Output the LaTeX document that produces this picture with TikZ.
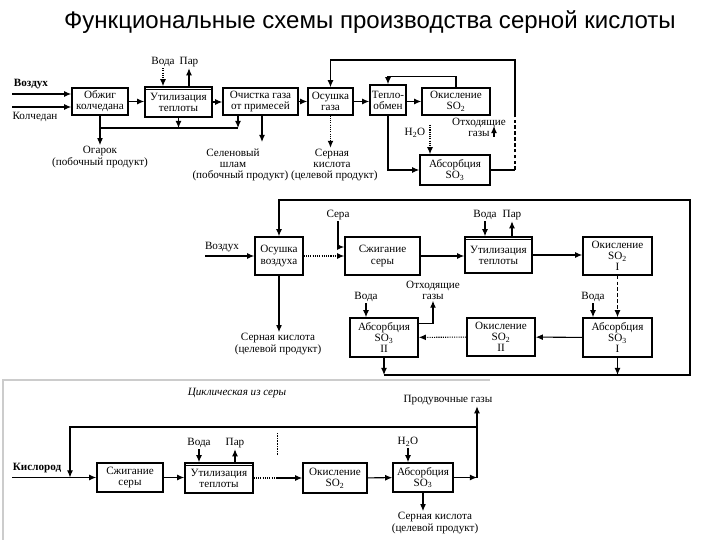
\documentclass[tikz,border=0pt]{standalone}
\usepackage{fontspec}
\setmainfont{Liberation Serif}
\newfontfamily\titlefont{Liberation Sans}
\usetikzlibrary{arrows.meta}
\newcommand{\dfont}{\fontsize{9.5}{9.5}\selectfont}

\begin{document}
\begin{tikzpicture}[x=0.03cm, y=-0.03cm, >={Latex[length=6pt,width=5pt]},
  box/.style args={#1x#2}{draw, line width=1.3pt, minimum width=#1*0.03cm,
    minimum height=#2*0.03cm, inner sep=1pt, align=center, font=\dfont},
  lbl/.style={align=center, font=\dfont, inner sep=1pt},
  flow/.style={->, line width=0.9pt},
  pipe/.style={line width=0.9pt}]

  \useasboundingbox (0,0) rectangle (720,540);

  \node[font=\titlefont\fontsize{20.5}{22}\selectfont] (title) at (370,22)
    {Функциональные схемы производства серной кислоты};

  % scheme from pyrite
  \node[box=56x27] (obzhig) at (100,101.5) {Обжиг\\колчедана};
  \node[box=67x30] (util1) at (178.5,102) {Утилизация\\теплоты};
  \node[box=75x27] (ochist) at (260.5,101.5) {Очистка газа\\от примесей};
  \node[box=45x27] (osush1) at (330.5,101.5) {Осушка\\газа};
  \node[box=36x30] (teplo) at (388,100) {Тепло-\\обмен};
  \node[box=68x27] (okisl1) at (456,101.5) {Окисление\\SO\textsubscript{2}};
  \node[box=70x30] (absorb1) at (455,170) {Абсорбция\\SO\textsubscript{3}};

  \node[lbl, font=\dfont\bfseries] (vozduh1) at (31,84) {Воздух};
  \coordinate (in1) at (12,94);
  \draw[flow] (in1) -- (in1 -| obzhig.west);
  \node[lbl] (kolch) at (35,117) {Колчедан};
  \coordinate (in2) at (12,107);
  \draw[flow] (in2) -- (in2 -| obzhig.west);

  \draw[flow] (obzhig.east) -- (obzhig.east -| util1.west);
  \draw[flow] (util1.east) -- (util1.east -| ochist.west);
  \draw[flow] (ochist.east) -- (ochist.east -| osush1.west);
  \draw[flow] (osush1.east) -- (osush1.east -| teplo.west);
  \draw[flow] (teplo.east |- okisl1.west) -- (okisl1.west);

  \node[lbl] (voda1) at (163,62) {Вода};
  \node[lbl] (par1) at (189,62) {Пар};
  \draw[flow, densely dotted] (voda1) -- (voda1 |- util1.north);
  \draw[flow] (par1 |- util1.north) -- (par1);

  % cinder
  \node[lbl] (ogarok) at (100,157) {Огарок\\(побочный продукт)};
  \coordinate (dust) at (100,128);
  \coordinate (dustR) at (238,128);
  \draw[pipe] (obzhig.south) -- (dust) -- (dustR);
  \draw[flow] (dust) -- (ogarok);
  \draw[flow] (util1.south) -- (util1.south |- dust);
  \draw[flow] (ochist.south -| dustR) -- (dustR);

  \node[lbl] (selen) at (233,158.5) {Селеновый\\шлам};
  \coordinate (selenT) at (262,142);
  \draw[flow] (ochist.south -| selenT) -- (selenT);
  \node[lbl] (prod1) at (285,176) {(побочный продукт) (целевой продукт)};

  \node[lbl] (acid1) at (332,158.5) {Серная\\кислота};
  \draw[flow, densely dotted] (osush1.south) -- (osush1.south |- acid1.north);

  \draw[flow] (okisl1.north) -- ++(0,-11) -| (teplo.north);
  \draw[flow] (teplo.south) |- (absorb1.west);

  \node[lbl] (h2o1) at (415,133) {H\textsubscript{2}O};
  \coordinate (h2oT) at (430,125);
  \draw[flow, densely dotted] (h2oT) -- (h2oT |- absorb1.north);

  \node[lbl] (off1) at (479,127) {Отходящие\\газы\hspace{4mm}};
  \coordinate (offA) at (494,137);
  \draw[flow] (offA) -- ++(0,-11);

  \coordinate (rl) at (515,60);
  \draw[pipe] (absorb1.east) -- (absorb1.east -| rl) coordinate (rb);
  \draw[pipe, densely dashed] (rb) -- (rb |- okisl1.south);
  \draw[flow] (rb |- okisl1.south) -- (rl) -| (osush1.north);

  % scheme from sulfur
  \node[box=48x38] (osushV) at (279,256) {Осушка\\воздуха};
  \node[box=75x38] (szhig2) at (382.5,256) {Сжигание\\серы};
  \node[box=67x36] (util2) at (498.5,255) {Утилизация\\теплоты};
  \node[box=69x38] (okislI) at (617.5,256) {Окисление\\SO\textsubscript{2}\\I};
  \node[box=69x39] (absI) at (617.5,337.5) {Абсорбция\\SO\textsubscript{3}\\I};
  \node[box=68x38] (okislII) at (501,337) {Окисление\\SO\textsubscript{2}\\II};
  \node[box=68x39] (absII) at (384,337.5) {Абсорбция\\SO\textsubscript{3}\\II};

  \node[lbl] (vozduh2) at (222,247) {Воздух};
  \coordinate (in3) at (205,256);
  \draw[flow] (in3) -- (osushV.west);
  \node[lbl] (acid2) at (278,344) {Серная кислота\\(целевой продукт)};
  \draw[flow] (osushV.south) -- (osushV.south |- acid2.north);

  \node[lbl] (sera2) at (338,215) {Сера};
  \draw[flow] (sera2.south) |- ([yshift=0.27cm]szhig2.west);
  \draw[flow, densely dotted] (osushV.east) -- (osushV.east -| szhig2.west);
  \draw[flow] (szhig2.east) -- (szhig2.east -| util2.west);

  \node[lbl] (voda2) at (485,215) {Вода};
  \node[lbl] (par2) at (512,215) {Пар};
  \draw[flow] (voda2) -- (voda2 |- util2.north);
  \draw[flow] (par2 |- util2.north) -- (par2);
  \draw[flow] (util2.east) -- (util2.east -| okislI.west);

  \draw[flow, densely dashed] (okislI) -- (absI);
  \node[lbl] (voda3) at (593,297) {Вода};
  \draw[flow] (voda3) -- (voda3 |- absI.north);
  \draw[flow] (absI) -- (okislII);
  \draw[flow, densely dotted] (okislII) -- (absII);
  \node[lbl] (voda4) at (366,297) {Вода};
  \draw[flow] (voda4) -- (voda4 |- absII.north);

  \node[lbl] (off2) at (433,290) {Отходящие\\газы};
  \draw[flow] ([yshift=0.43cm]absII.east) -| (off2.south);

  \coordinate (mTL) at (277,200);
  \coordinate (mBR) at (690,375);
  \draw[flow] (absII.south) -- (absII.south |- mBR);
  \draw[flow] (absI.south) -- (absI.south |- mBR);
  \draw[flow] (absII.south |- mBR) -- (mBR) |- (osushV.north |- mTL) -- (osushV.north);

  % cyclic scheme
  \draw[gray!40, line width=1pt] (3,540) -- (3,380) -- (490,380);
  \node[lbl, font=\dfont\itshape] (cap3) at (237,393) {Циклическая из серы};
  \node[lbl, font=\dfont\bfseries] (kisl) at (37,468) {Кислород};
  \node[box=66x29] (szhig3) at (130,477.5) {Сжигание\\серы};
  \node[box=68x30] (util3) at (219,478) {Утилизация\\теплоты};
  \node[box=64x30] (okisl3) at (335,478) {Окисление\\SO\textsubscript{2}};
  \node[box=60x29] (abs3) at (423,477.5) {Абсорбция\\SO\textsubscript{3}};

  \coordinate (in4) at (12,477.5);
  \draw[flow] (in4) -- (szhig3.west);
  \draw[flow] (szhig3.east) -- (szhig3.east -| util3.west);
  \node[lbl] (voda5) at (199,443) {Вода};
  \node[lbl] (par5) at (235,443) {Пар};
  \draw[flow] (voda5) -- (voda5 |- util3.north);
  \draw[flow] (par5 |- util3.north) -- (par5);

  \coordinate (mid3) at (277,478);
  \draw[pipe, densely dotted] (util3.east) -- (mid3);
  \draw[flow] (mid3) -- (okisl3.west);
  \draw[densely dotted] (277,433) -- (277,455);
  \draw[flow] (okisl3) -- (abs3);
  \node[lbl] (h2o3) at (408,442) {H\textsubscript{2}O};
  \draw[flow] (h2o3) -- (h2o3 |- abs3.north);

  \node[lbl] (purge) at (448,400) {Продувочные газы};
  \coordinate (out3) at (477,477.5);
  \coordinate (loop3) at (477,427);
  \coordinate (loop3L) at (70,427);
  \draw[flow] (abs3.east) -- (out3);
  \draw[flow] (out3) -- (out3 |- purge.south);
  \draw[flow] (loop3) -- (loop3L) -- (loop3L |- in4);

  \node[lbl] (acid3) at (435,523) {Серная кислота\\(целевой продукт)};
  \draw[flow] (abs3.south) -- (abs3.south |- acid3.north);

  % double top of the heat recovery boxes
  \foreach \n in {util1,util2,util3}
    \draw[line width=1pt] ([yshift=-0.11cm]\n.north west) -- ([yshift=-0.11cm]\n.north east);
\end{tikzpicture}
\end{document}
